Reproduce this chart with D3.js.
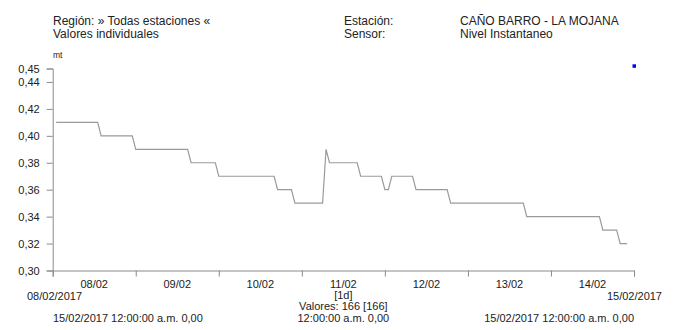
<!DOCTYPE html>
<html>
<head>
<meta charset="utf-8">
<script src="https://cdn.jsdelivr.net/npm/d3@7"></script>
<style>
  html, body { margin: 0; padding: 0; background: #fff; }
  svg { display: block; font-family: "Liberation Sans", Arial, sans-serif; }
  text { fill: #222; }
</style>
</head>
<body>
<svg id="chart" width="674" height="330"></svg>
<script>
// ---- Header texts ----
const headerLeft = ["Región: » Todas estaciones «", "Valores individuales"];
const headerLabels = ["Estación:", "Sensor:"];
const headerValues = ["CAÑO BARRO - LA MOJANA", "Nivel Instantaneo"];
const unitLabel = "mt";

// ---- Time axis ----
const domainStart = "2017-02-08T00:00:00";
const domainEnd = "2017-02-15T00:00:00";
const dayLabels = ["08/02", "09/02", "10/02", "11/02", "12/02", "13/02", "14/02"];
const startLabel = "08/02/2017";
const endLabel = "15/02/2017";
const intervalLabel = "[1d]";
const countLabel = "Valores: 166 [166]";
const footer = ["15/02/2017 12:00:00 a.m.   0,00", "12:00:00 a.m.   0,00", "15/02/2017 12:00:00 a.m.   0,00"];

// ---- Y axis ----
const yTicks = [0.30, 0.32, 0.34, 0.36, 0.38, 0.40, 0.42, 0.44, 0.45];

// ---- Series: hourly readings starting 08/02/2017 01:00 ----
const seriesStart = "2017-02-08T01:00:00";
const stepHours = 1;
const levels = [
  0.41,0.41,0.41,0.41,0.41,0.41,0.41,0.41,0.41,0.41,0.41,0.41,0.41,
  0.40,0.40,0.40,0.40,0.40,0.40,0.40,0.40,0.40,0.40,
  0.39,0.39,0.39,0.39,0.39,0.39,0.39,0.39,0.39,0.39,0.39,0.39,0.39,0.39,0.39,0.39,
  0.38,0.38,0.38,0.38,0.38,0.38,0.38,0.38,
  0.37,0.37,0.37,0.37,0.37,0.37,0.37,0.37,0.37,0.37,0.37,0.37,0.37,0.37,0.37,0.37,0.37,
  0.36,0.36,0.36,0.36,0.36,
  0.35,0.35,0.35,0.35,0.35,0.35,0.35,0.35,0.35,
  0.39,
  0.38,0.38,0.38,0.38,0.38,0.38,0.38,0.38,0.38,
  0.37,0.37,0.37,0.37,0.37,0.37,0.37,
  0.36,0.36,
  0.37,0.37,0.37,0.37,0.37,0.37,0.37,
  0.36,0.36,0.36,0.36,0.36,0.36,0.36,0.36,0.36,0.36,
  0.35,0.35,0.35,0.35,0.35,0.35,0.35,0.35,0.35,0.35,0.35,
  0.35,0.35,0.35,0.35,0.35,0.35,0.35,0.35,0.35,0.35,0.35,
  0.34,0.34,0.34,0.34,0.34,0.34,0.34,0.34,0.34,0.34,0.34,
  0.34,0.34,0.34,0.34,0.34,0.34,0.34,0.34,0.34,0.34,0.34,
  0.33,0.33,0.33,0.33,0.33,
  0.32,0.32,0.32
];

// ---- Marker point (blue) ----
const markerTimes = ["2017-02-15T00:00:00"];
const markerValues = [0.452];

// ---- Drawing ----
const svg = d3.select("#chart");
const parse = s => new Date(s);
const margin = { left: 52.7, right: 634, top: 68.5, bottom: 270.5 };

const x = d3.scaleTime().domain([parse(domainStart), parse(domainEnd)]).range([margin.left, margin.right]);
const y = d3.scaleLinear().domain([0.30, 0.45]).range([margin.bottom, margin.top]);

const axisColor = "#8a8a8a";
const fmt = d3.format(".2f");
const comma = v => fmt(v).replace(".", ",");

// Header
const hdr = svg.append("g").attr("font-size", 12);
headerLeft.forEach((t, i) => hdr.append("text").attr("x", 53).attr("y", 25 + i * 13).text(t));
headerLabels.forEach((t, i) => hdr.append("text").attr("x", 344).attr("y", 25 + i * 13).text(t));
headerValues.forEach((t, i) => hdr.append("text").attr("x", 460).attr("y", 25 + i * 13).text(t));
svg.append("text").attr("x", 53).attr("y", 58).attr("font-size", 8.5).text(unitLabel);

// Y axis
const yAxis = d3.axisLeft(y).tickValues(yTicks).tickSizeOuter(0).tickSize(6).tickPadding(7).tickFormat(comma);
const gy = svg.append("g").attr("transform", `translate(${margin.left},0)`).call(yAxis);
gy.select(".domain").attr("stroke", axisColor);
gy.selectAll(".tick line").attr("stroke", axisColor);
gy.selectAll(".tick text").attr("font-size", 11).attr("font-family", "Liberation Sans, Arial, sans-serif").attr("fill", "#222");

// X axis
const dayTicks = d3.timeDay.range(parse(domainStart), d3.timeDay.offset(parse(domainEnd), 1));
const xAxis = d3.axisBottom(x).tickValues(dayTicks).tickSizeOuter(0).tickSize(6).tickFormat("");
const gx = svg.append("g").attr("transform", `translate(0,${margin.bottom})`).call(xAxis);
gx.select(".domain").attr("stroke", axisColor);
gx.selectAll(".tick line").attr("stroke", axisColor);

// Day labels, centered at midday
svg.append("g").attr("font-size", 11).attr("text-anchor", "middle")
  .selectAll("text").data(dayLabels).join("text")
  .attr("x", (d, i) => x(d3.timeHour.offset(dayTicks[i], 12)))
  .attr("y", 288)
  .text(d => d);

const mid = x(d3.timeHour.offset(dayTicks[3], 12));
const lower = svg.append("g").attr("font-size", 11).attr("xml:space", "preserve").style("white-space", "pre");
lower.append("text").attr("x", 27).attr("y", 300).text(startLabel);
lower.append("text").attr("x", 662).attr("y", 300).attr("text-anchor", "end").text(endLabel);
lower.append("text").attr("x", mid).attr("y", 299).attr("text-anchor", "middle").text(intervalLabel);
lower.append("text").attr("x", mid).attr("y", 310).attr("text-anchor", "middle").text(countLabel);
lower.append("text").attr("x", 53).attr("y", 322).text(footer[0]);
lower.append("text").attr("x", mid).attr("y", 322).attr("text-anchor", "middle").text(footer[1]);
lower.append("text").attr("x", margin.right).attr("y", 322).attr("text-anchor", "end").text(footer[2]);

// Series line
const t0 = parse(seriesStart);
const pts = levels.map((v, i) => ({ t: d3.timeHour.offset(t0, i * stepHours), v }));
svg.append("path")
  .datum(pts)
  .attr("fill", "none")
  .attr("stroke", "#9a9a9a")
  .attr("stroke-width", 1.2)
  .attr("d", d3.line().x(d => x(d.t)).y(d => y(d.v)));

// Marker
svg.append("g").selectAll("rect").data(markerValues).join("rect")
  .attr("x", (d, i) => x(parse(markerTimes[i])) - 1.5)
  .attr("y", d => y(d) - 1.5)
  .attr("width", 3.5).attr("height", 3.5)
  .attr("fill", "#0000ff");
</script>
</body>
</html>
